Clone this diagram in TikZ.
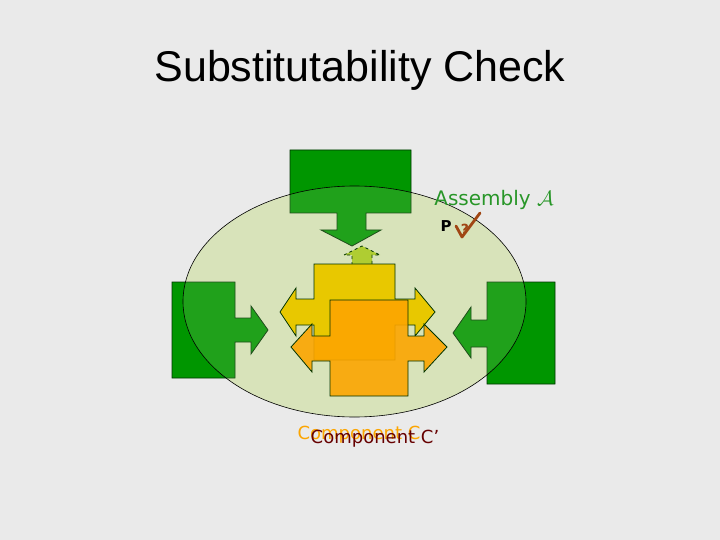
\documentclass[tikz,border=0pt]{standalone}
\usepackage{fontspec}
\usetikzlibrary{shapes.geometric}
\setmainfont{Liberation Sans}
\newfontfamily\dv{DejaVu Sans}
\definecolor{bg}{RGB}{234,234,234}
\definecolor{ell}{RGB}{216,227,186}
\definecolor{gr}{RGB}{0,150,0}
\definecolor{yl}{RGB}{232,200,0}
\definecolor{orc}{RGB}{252,165,0}
\definecolor{lg}{RGB}{175,205,50}
\definecolor{asm}{RGB}{40,150,40}
\definecolor{brn}{RGB}{160,70,20}
\begin{document}
\begin{tikzpicture}[x=1pt,y=-1pt,
  shp/.style={draw=black!80!green, line width=0.8pt},
  elli/.style={ellipse, minimum width=343, minimum height=231, inner sep=0},
  lbl/.style={inner sep=0pt, anchor=base}]
\useasboundingbox[fill=bg] (0,0) rectangle (720,540);
\node[lbl] (title) at (360,82) {\fontsize{43}{43}\selectfont Substitutability Check};
% assembly ellipse (fill)
\node[elli, fill=ell] (asmb) at (354.5,301.5) {};
% green ports
\draw[shp, fill=gr] (290,150) -- (411,150) -- (411,213) -- (366,213) -- (366,230) -- (381,230) -- (352,246) -- (321,230) -- (337,230) -- (337,213) -- (290,213) -- cycle;
\draw[shp, fill=gr] (172,282) -- (235,282) -- (235,318) -- (251,318) -- (251,306) -- (268,330) -- (251,354) -- (251,342) -- (235,342) -- (235,378) -- (172,378) -- cycle;
\draw[shp, fill=gr] (555,282) -- (487,282) -- (487,320) -- (471,320) -- (471,307) -- (453,333) -- (471,358) -- (471,347) -- (487,347) -- (487,384) -- (555,384) -- cycle;
% translucent ellipse over the ports, with outline
\node[elli, draw=black, line width=0.6pt, fill=ell, fill opacity=0.15] (asmo) at (354.5,301.5) {};
% required port (dashed)
\draw[shp, dashed, fill=lg] (352,277) -- (352,255) -- (344,255) -- (362,246) -- (380,255) -- (372,255) -- (372,277) -- cycle;
% component C (yellow)
\draw[shp, fill=yl] (314,264) -- (395,264) -- (395,299) -- (415,299) -- (415,288) -- (435,312) -- (415,336) -- (415,325) -- (395,325) -- (395,360) -- (314,360) -- (314,325) -- (296,325) -- (296,336) -- (280,312) -- (296,288) -- (296,299) -- (314,299) -- cycle;
% component C' (orange)
\draw[shp, fill=orc, fill opacity=0.9] (330,300) -- (408,300) -- (408,336) -- (424,336) -- (424,324) -- (447,347) -- (424,372) -- (424,361) -- (408,361) -- (408,396) -- (330,396) -- (330,361) -- (312,361) -- (312,372) -- (291,347) -- (312,324) -- (312,336) -- (330,336) -- cycle;
% labels
\node[lbl, text=asm] (asml) at (494,206) {\dv\fontsize{20}{20}\selectfont Assembly $\mathcal{A}$};
\node[lbl] (pl) at (446,232) {\dv\bfseries\fontsize{15}{15}\selectfont P};
\node[lbl, text=brn] (q) at (465,235) {\dv\bfseries\fontsize{14}{14}\selectfont ?};
\draw[brn, line width=2.8pt, line cap=round, line join=round] (456,226) -- (462,237) -- (480,213);
\node[lbl, text=orc] (cl) at (359,439) {\dv\fontsize{18}{18}\selectfont Component C};
\node[lbl, text=red!40!black] (cpl) at (375,443) {\dv\fontsize{18}{18}\selectfont Component C’};
\end{tikzpicture}
\end{document}
